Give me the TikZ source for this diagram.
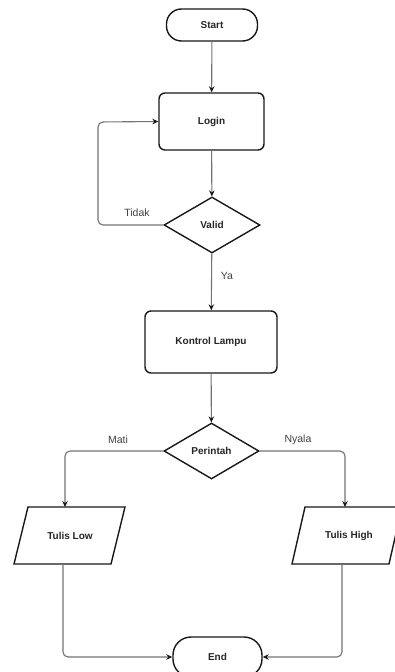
\documentclass[tikz,border=0pt]{standalone}
\usepackage{fontspec}
\setmainfont{Liberation Sans}
\usetikzlibrary{arrows.meta,calc,shapes.geometric}
\begin{document}
\begin{tikzpicture}[x=1pt,y=-1pt,
  outline/.style={draw=black!90, line width=1.4pt},
  box/.style={outline, fill=white, font=\fontsize{10}{12}\selectfont\bfseries, text=black!85, inner sep=1pt},
  term/.style={box, rounded corners=15pt, minimum width=91pt, minimum height=32pt},
  endterm/.style={box, rounded corners=18pt, minimum width=89pt, minimum height=40pt},
  proc/.style={box, rounded corners=6pt},
  dec/.style={box, diamond, aspect=1.7, minimum width=96pt, minimum height=56pt, inner sep=0pt},
  txt/.style={font=\fontsize{10}{12}\selectfont\bfseries, text=black!85},
  lbl/.style={font=\fontsize{10.5}{12}\selectfont, text=black!75},
  conn/.style={draw=black!55, line width=1.1pt, rounded corners=5pt,
    -{Stealth[length=6pt,width=5.5pt,inset=2pt,color=black!90]}}
]
\useasboundingbox (0,0) rectangle (395,672);

% nodes
\node[term] (start) at (212,25) {Start};
\node[proc, minimum width=105pt, minimum height=57pt] (login) at (211.5,121.5) {Login};
\node[dec] (valid) at (212,225) {Valid};
\node[proc, minimum width=132pt, minimum height=62pt] (kontrol) at (211,342) {Kontrol Lampu};
\node[dec, minimum width=95pt] (perintah) at (211.5,451) {Perintah};
\node[endterm] (end) at (217.5,657) {End};

% parallelograms (input/output)
\draw[outline, fill=white] (28,507) -- (125,507) -- (111,564) -- (14,564) -- cycle;
\node[txt] (low) at (70,536) {Tulis Low};
\draw[outline, fill=white] (305,507) -- (402,507) -- (389,564) -- (292,564) -- cycle;
\node[txt] (high) at (349,536) {Tulis High};

\coordinate (lowtop) at (65,507);
\coordinate (lowbot) at (63,564);
\coordinate (hightop) at (345,507);
\coordinate (highbot) at (342,564);
\coordinate (loopL) at (98,225);
\coordinate (loopT) at (98,122);

% connectors
\draw[conn] (start) -- (login);
\draw[conn] (login) -- (valid);
\draw[conn] (valid.west) -- (loopL) -- (loopT) -- (login.west);
\draw[conn] (valid) -- (kontrol);
\draw[conn] (kontrol) -- (perintah);
\draw[conn] (perintah.west) -- (lowtop |- perintah.west) -- (lowtop);
\draw[conn] (perintah.east) -- (hightop |- perintah.east) -- (hightop);
\draw[conn] (lowbot) -- (lowbot |- end.west) -- (end.west);
\draw[conn] (highbot) -- (highbot |- end.east) -- (end.east);

% labels
\node[lbl] (tidak) at (137,213) {Tidak};
\node[lbl] (ya) at (227,276) {Ya};
\node[lbl] (mati) at (118,440) {Mati};
\node[lbl] (nyala) at (298,440) {Nyala};
\end{tikzpicture}
\end{document}
